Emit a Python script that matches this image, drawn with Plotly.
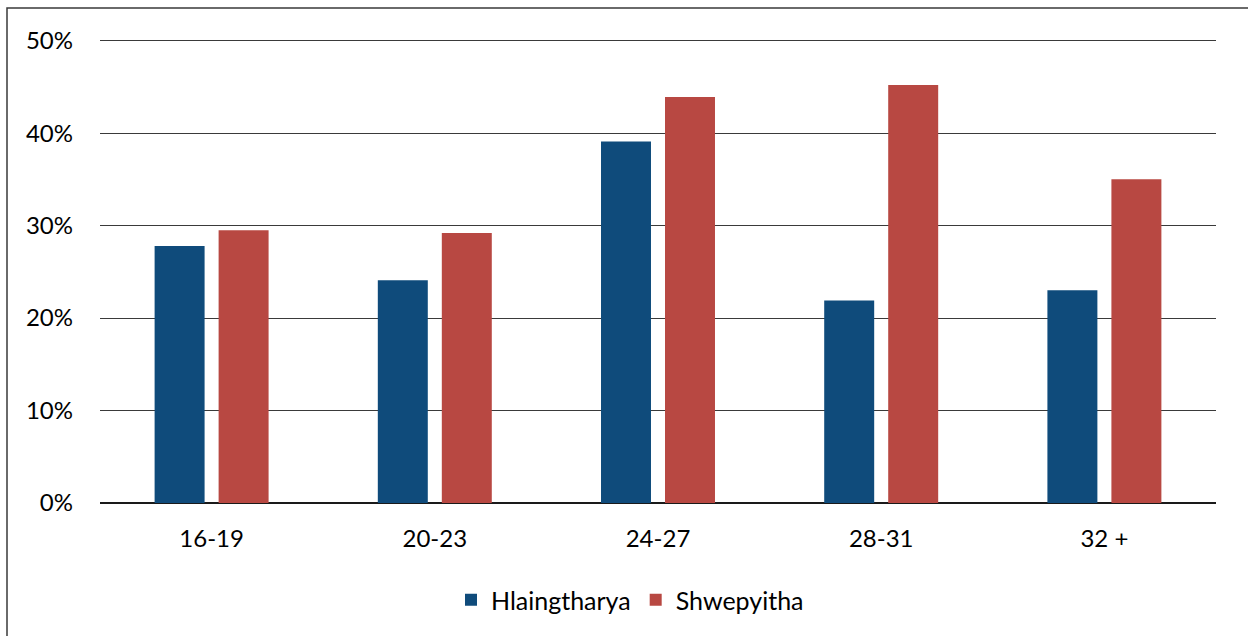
import plotly.graph_objects as go

categories = ["16-19", "20-23", "24-27", "28-31", "32 +"]
hlaingtharya = [27.8, 24.1, 39.1, 21.9, 23.0]
shwepyitha = [29.5, 29.2, 43.9, 45.2, 35.0]
tick_vals = [0, 10, 20, 30, 40, 50]
tick_text = ["0%", "10%", "20%", "30%", "40%", "50%"]

W, H = 1248, 636
L, R, T, B = 100, 32, 36, 133
YMAX = 50.5

fig = go.Figure()
fig.add_trace(go.Bar(name="Hlaingtharya", x=categories, y=hlaingtharya, marker_color="#0F4B7B", marker_line_width=0))
fig.add_trace(go.Bar(name="Shwepyitha", x=categories, y=shwepyitha, marker_color="#B84842", marker_line_width=0))

pw = W - L - R
ph = H - T - B
fig.update_layout(
    width=W, height=H,
    margin=dict(l=L, r=R, t=T, b=B, pad=0),
    paper_bgcolor="white", plot_bgcolor="white",
    barmode="group", bargap=0.4265, bargroupgap=0.219,
    font=dict(family="Lato, Open Sans, sans-serif", size=24, color="#000000"),
    xaxis=dict(showgrid=False, ticks="", showline=False, tickfont=dict(size=24), ticklabelstandoff=19),
    yaxis=dict(range=[0, YMAX], tickvals=tick_vals, ticktext=tick_text, showgrid=True,
               gridcolor="#3a3a3a", gridwidth=1, zeroline=True, zerolinecolor="#1a1a1a",
               zerolinewidth=1.5, ticks="", ticklabelstandoff=26, tickfont=dict(size=24)),
    legend=dict(orientation="h", x=(630 - L) / pw, xanchor="center", y=-(600 - 503) / ph, yanchor="middle",
                font=dict(size=25), itemwidth=30, traceorder="normal"),
    shapes=[dict(type="rect", xref="paper", yref="paper",
                 x0=(7 - L) / pw, x1=(W + 20 - L) / pw,
                 y0=-(H + 20 - T - ph) / ph, y1=1 + (T - 8) / ph,
                 line=dict(color="#3a3a3a", width=1.5), fillcolor="rgba(0,0,0,0)")],
)
fig.write_html("out.html", config={"displayModeBar": False},
               post_script="document.body.style.margin='0';document.body.style.overflow='hidden';")
